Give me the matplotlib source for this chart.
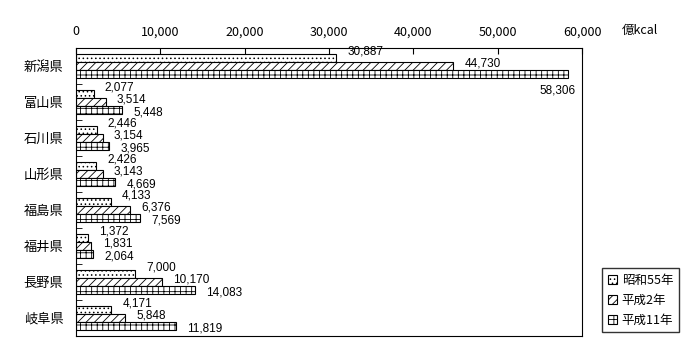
import numpy as np
import matplotlib.pyplot as plt

plt.rcParams['font.family'] = ['Noto Sans CJK JP', 'DejaVu Sans']
plt.rcParams['hatch.linewidth'] = 0.6

prefs = ['新潟県', '富山県', '石川県', '山形県', '福島県', '福井県', '長野県', '岐阜県']
s55 = [30887, 2077, 2446, 2426, 4133, 1372, 7000, 4171]
h2 = [44730, 3514, 3154, 3143, 6376, 1831, 10170, 5848]
h11 = [58306, 5448, 3965, 4669, 7569, 2064, 14083, 11819]
series_names = ['昭和55年', '平成2年', '平成11年']
hatches = ['....', '////', '+++']

fig = plt.figure(figsize=(7, 3.6), dpi=100)
ax = fig.add_axes([76 / 700, 24 / 360, 506 / 700, 288 / 360])

y = np.arange(len(prefs))
h = 0.22
dy = [4.5, 1.5, -1.5]
for i, (vals, hc) in enumerate(zip([s55, h2, h11], hatches)):
    ax.barh(y - h + i * h, vals, height=h, color='white', edgecolor='black',
            hatch=hc, linewidth=0.8, label=series_names[i])
    for yy, v in zip(y, vals):
        label = f'{v:,}'
        if v > 50000:
            ax.annotate(label, (v, yy - h + i * h), xytext=(6, -12), textcoords='offset points',
                        fontsize=8.5, va='center', ha='right', family='Liberation Sans')
        else:
            ax.annotate(label, (v, yy - h + i * h), xytext=(8, dy[i]), textcoords='offset points',
                        fontsize=8.5, va='center', ha='left', family='Liberation Sans')

ax.set_xlim(0, 60000)
ax.set_ylim(len(prefs) - 0.5, -0.5)
ax.xaxis.tick_top()
ax.set_xticks(np.arange(0, 60001, 10000))
ax.set_xticklabels([f'{t:,}' for t in range(0, 60001, 10000)], fontsize=9)
ax.tick_params(axis='x', direction='in', length=4, pad=7)
ax.set_yticks(y)
ax.set_yticklabels(prefs, fontsize=9.5)
ax.tick_params(axis='y', length=0, pad=9)
ax.set_yticks(np.arange(0.5, len(prefs) - 0.5, 1), minor=True)
ax.tick_params(axis='y', which='minor', direction='in', length=4)
for s in ax.spines.values():
    s.set_linewidth(0.8)

fig.text(622 / 700, 1 - 30 / 360, '億kcal', fontsize=9, va='center')

ax.legend(loc='upper left', bbox_to_anchor=(596 / 700, 1 - 262 / 360), bbox_transform=fig.transFigure,
          fontsize=9, frameon=True, fancybox=False, edgecolor='black', handlelength=0.7,
          handleheight=0.7, labelspacing=0.55, borderpad=0.45, handletextpad=0.4)

fig.savefig('out.png', dpi=100)
